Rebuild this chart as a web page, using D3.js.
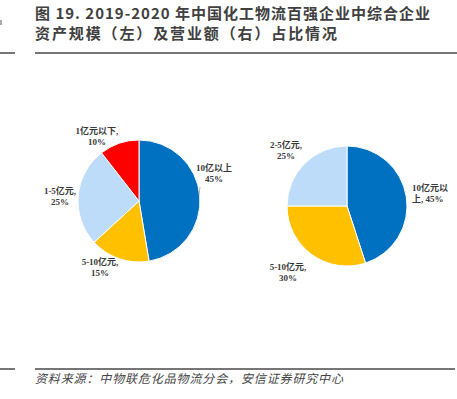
<!DOCTYPE html>
<html>
<head>
<meta charset="utf-8">
<script src="https://d3js.org/d3.v7.min.js"></script>
<style>
  body { margin: 0; background: #fff; }
  svg { display: block; }
</style>
</head>
<body>
<script>
// left pie: asset scale
var leftNames = ["10亿以上", "5-10亿元", "1-5亿元", "1亿元以下"]
var leftValues = [45, 15, 25, 10]
// right pie: revenue
var rightNames = ["10亿元以上", "5-10亿元", "2-5亿元"]
var rightValues = [45, 30, 25]

var width = 457, height = 399

var colors = {
  "10亿以上": "#0070c0", "10亿元以上": "#0070c0",
  "5-10亿元": "#ffc000",
  "1-5亿元": "#bddcfa", "2-5亿元": "#bddcfa",
  "1亿元以下": "#ff0000"
}

var svg = d3.select("body").append("svg")
  .attr("width", width)
  .attr("height", height)

// title
var titleFont = "'Noto Sans CJK SC', 'Noto Sans', sans-serif"
svg.append("text")
  .attr("x", 35).attr("y", 19)
  .attr("font-family", titleFont)
  .attr("font-weight", "bold")
  .attr("font-size", 15)
  .attr("fill", "#404040")
  .attr("textLength", 395)
  .attr("lengthAdjust", "spacing")
  .text("图 19. 2019-2020 年中国化工物流百强企业中综合企业")
svg.append("text")
  .attr("x", 35).attr("y", 39)
  .attr("font-family", titleFont)
  .attr("font-weight", "bold")
  .attr("font-size", 15)
  .attr("fill", "#404040")
  .attr("textLength", 302)
  .attr("lengthAdjust", "spacing")
  .text("资产规模（左）及营业额（右）占比情况")

// rules
svg.append("line").attr("x1", 35).attr("x2", 457).attr("y1", 53).attr("y2", 53)
  .attr("stroke", "#767676").attr("stroke-width", 2)
svg.append("line").attr("x1", 0).attr("x2", 15).attr("y1", 53).attr("y2", 53)
  .attr("stroke", "#767676").attr("stroke-width", 2)
svg.append("line").attr("x1", 1).attr("x2", 1).attr("y1", 20).attr("y2", 25)
  .attr("stroke", "#555").attr("stroke-width", 1)
svg.append("line").attr("x1", 35).attr("x2", 455).attr("y1", 369).attr("y2", 369)
  .attr("stroke", "#767676").attr("stroke-width", 2)
svg.append("line").attr("x1", 0).attr("x2", 15).attr("y1", 369).attr("y2", 369)
  .attr("stroke", "#767676").attr("stroke-width", 2)

svg.append("text")
  .attr("x", 35).attr("y", 383)
  .attr("font-family", titleFont)
  .attr("font-size", 12)
  .attr("font-style", "italic")
  .attr("fill", "#444")
  .attr("textLength", 308)
  .attr("lengthAdjust", "spacing")
  .text("资料来源：中物联危化品物流分会，安信证券研究中心")

var pie = d3.pie().sort(null).value(function(d) { return d.value })

function drawPie(names, values, cx, cy, r) {
  var data = names.map(function(n, i) { return { name: n, value: values[i] } })
  var arc = d3.arc().innerRadius(0).outerRadius(r)
  var g = svg.append("g").attr("transform", "translate(" + cx + " " + cy + ")")
  g.selectAll("path")
    .data(pie(data))
    .enter().append("path")
    .attr("d", arc)
    .attr("fill", function(d) { return colors[d.data.name] })
    .attr("stroke", "#fff")
    .attr("stroke-width", 1)
  return g
}

drawPie(leftNames, leftValues, 139, 201, 61)
drawPie(rightNames, rightValues, 347, 206, 60)

// labels
var labelFont = "'Liberation Serif', 'Noto Sans CJK SC', serif"
function label(lines, x, y, anchor) {
  var t = svg.append("text")
    .attr("font-family", labelFont)
    .attr("font-weight", "bold")
    .attr("font-size", 9)
    .attr("fill", "#3a3a3a")
    .attr("text-anchor", anchor || "middle")
  lines.forEach(function(s, i) {
    t.append("tspan").attr("x", x).attr("y", y + i * 11).text(s)
  })
}

var lp = leftValues.map(function(v) { return v + "%" })
var rp = rightValues.map(function(v) { return v + "%" })

label([leftNames[3] + ",", lp[3]], 97, 134)
label([leftNames[0], lp[0]], 214, 171)
label([leftNames[2] + ",", lp[2]], 60, 194)
label([leftNames[1] + ",", lp[1]], 100, 265)
svg.append("line").attr("x1", 200).attr("y1", 187).attr("x2", 199).attr("y2", 195)
  .attr("stroke", "#a6a6a6").attr("stroke-width", 0.8)

label([rightNames[2] + ",", rp[2]], 286, 148)
label(["10亿元以", "上, " + rp[0]], 412, 191, "start")
label([rightNames[1] + ",", rp[1]], 288, 270)
</script>
</body>
</html>
